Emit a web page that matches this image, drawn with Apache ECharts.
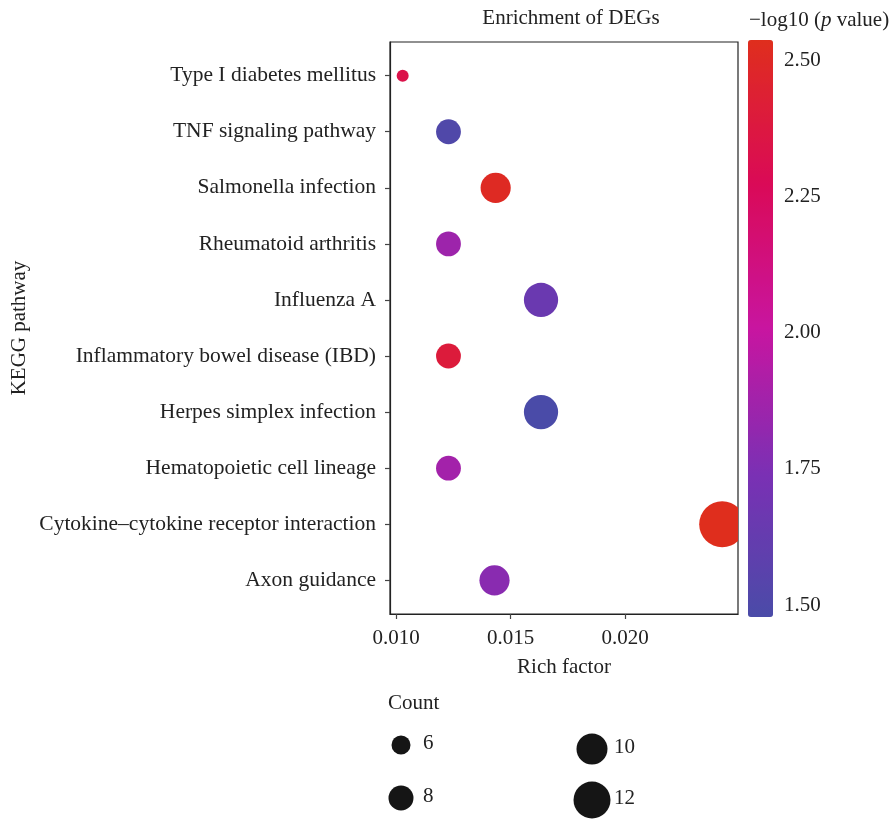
<!DOCTYPE html>
<html><head><meta charset="utf-8">
<script src="https://cdn.jsdelivr.net/npm/echarts@6/dist/echarts.min.js"></script>
<style>html,body{margin:0;padding:0;background:#fff}#c{width:893px;height:819px}</style>
</head><body><div id="c"></div>
<script>
// ---- data (bottom to top) ----
const pathways = ['Axon guidance','Cytokine\u2013cytokine receptor interaction','Hematopoietic cell lineage','Herpes simplex infection','Inflammatory bowel disease (IBD)','Influenza A','Rheumatoid arthritis','Salmonella infection','TNF signaling pathway','Type I diabetes mellitus'];
const richFactor = [0.01430, 0.02424, 0.01229, 0.01633, 0.01229, 0.01633, 0.01229, 0.01435, 0.01229, 0.01029];
const counts = [7, 12, 6, 8, 6, 8, 6, 7, 6, 5];
const logP = [1.79, 2.537, 1.88, 1.478, 2.40, 1.65, 1.86, 2.51, 1.51, 2.33];
const xTicks = [0.010, 0.015, 0.020];
const colorTicks = [1.50, 1.75, 2.00, 2.25, 2.50];
const legendCounts = [6, 8, 10, 12];

const FONT = '"Liberation Serif", "DejaVu Serif", serif';
const cMin = Math.min(...counts), cMax = Math.max(...counts);
const pMin = Math.min(...logP), pMax = Math.max(...logP);
const sizeOf = c => 12 + 34 * Math.sqrt((c - cMin) / (cMax - cMin));
const legendSize = c => 19 + 3 * (c - 6);

const chart = echarts.init(document.getElementById('c'), null, {renderer: 'canvas'});

const legendGraphics = [{
  type: 'text', left: 388, top: 693,
  style: {text: 'Count', font: '21px ' + FONT, fill: '#222'}
}];
legendCounts.forEach((c, i) => {
  const col = Math.floor(i / 2), row = i % 2;
  const cx = col === 0 ? 401 : 592;
  const cy = row === 0 ? (col === 0 ? 745 : 749) : (col === 0 ? 798 : 800);
  const r = legendSize(c) / 2;
  legendGraphics.push({type: 'circle', shape: {cx: cx, cy: cy, r: r}, style: {fill: '#151515'}});
  legendGraphics.push({type: 'text', x: cx + 22, y: cy - 2,
    style: {text: String(c), font: '21px ' + FONT, fill: '#222', verticalAlign: 'middle'}});
});

const option = {
  backgroundColor: '#fff',
  animation: false,
  graphic: [
    {type: 'text', x: 571, y: 18, style: {text: 'Enrichment of DEGs', font: '21px ' + FONT, fill: '#222', align: 'center', verticalAlign: 'middle'}},
    {type: 'text', x: 749, y: 20, style: {
      text: '\u2212log10 ({i|p} value)', font: '21px ' + FONT, fill: '#222', verticalAlign: 'middle',
      rich: {i: {fontStyle: 'italic', fontFamily: FONT, fontSize: 21, fill: '#222'}}
    }},
    ...legendGraphics
  ],
  grid: [
    {left: 390, top: 42, width: 348, height: 572, show: true, borderColor: '#222', borderWidth: 1.2, backgroundColor: 'transparent'},
    {left: 748, top: 40, width: 25, height: 577, show: false}
  ],
  xAxis: [
    {gridIndex: 0, type: 'value', min: 0.009737, max: 0.02493,
      name: 'Rich factor', nameLocation: 'middle', nameGap: 43,
      nameTextStyle: {fontFamily: FONT, fontSize: 21, color: '#222'},
      axisLine: {show: true, onZero: false, lineStyle: {color: '#222', width: 1.2}},
      axisTick: {show: true, length: 5, customValues: xTicks, lineStyle: {color: '#444', width: 1.2}},
      axisLabel: {customValues: xTicks, formatter: v => v.toFixed(3), fontFamily: FONT, fontSize: 21, color: '#222', margin: 14},
      splitLine: {show: false}},
    {gridIndex: 1, type: 'value', show: false}
  ],
  yAxis: [
    {gridIndex: 0, type: 'value', min: -0.6, max: 9.6,
      name: 'KEGG pathway', nameLocation: 'middle', nameGap: 360, nameRotate: 90,
      nameTextStyle: {fontFamily: FONT, fontSize: 21, color: '#222'},
      axisLine: {show: true, onZero: false, lineStyle: {color: '#222', width: 1.2}},
      axisTick: {show: true, length: 5, customValues: pathways.map((p, i) => i), lineStyle: {color: '#444', width: 1.2}},
      axisLabel: {customValues: pathways.map((p, i) => i), formatter: v => pathways[Math.round(v)], fontFamily: FONT, fontSize: 21.5, color: '#222', margin: 14},
      splitLine: {show: false}},
    {gridIndex: 1, type: 'value', min: pMin, max: pMax, position: 'right',
      axisLine: {show: false},
      axisTick: {show: true, length: 5, customValues: colorTicks, lineStyle: {color: '#333', width: 1.2}},
      axisLabel: {customValues: colorTicks, formatter: v => v.toFixed(2), fontFamily: FONT, fontSize: 21, color: '#222', margin: 11},
      splitLine: {show: false}}
  ],
  visualMap: {
    type: 'continuous', seriesIndex: 0, dimension: 2, min: pMin, max: pMax,
    calculable: false, realtime: false, hoverLink: false,
    left: 748, top: 40, itemWidth: 25, itemHeight: 577, padding: 0, text: null, showLabel: false,
    inRange: {color: ['#4A4BA8', '#7B30B4', '#C815A0', '#DA0A57', '#DF2E1D']}
  },
  series: [{
    type: 'custom', xAxisIndex: 0, yAxisIndex: 0, clip: true,
    data: pathways.map((p, i) => [richFactor[i], i, logP[i], counts[i]]),
    encode: {x: 0, y: 1},
    renderItem: (params, api) => {
      const pt = api.coord([api.value(0), api.value(1)]);
      return {type: 'circle', shape: {cx: pt[0], cy: pt[1], r: sizeOf(api.value(3)) / 2},
        style: {fill: api.visual('color')}};
    }
  }]
};
chart.setOption(option);
</script>
</body></html>
